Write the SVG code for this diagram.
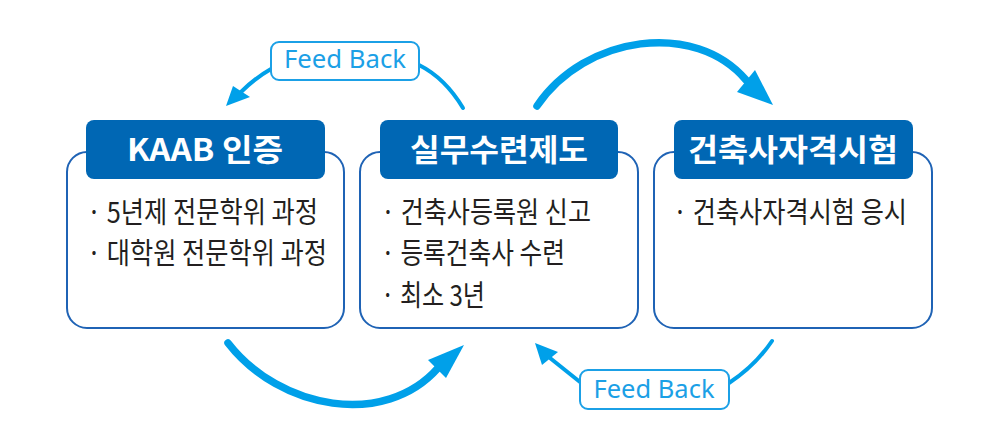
<svg xmlns="http://www.w3.org/2000/svg" width="1000" height="426" viewBox="0 0 1000 426">
<style>
.box{fill:#fff;stroke:#1f63b5;stroke-width:2}
.hdr{fill:#0067b4}
.ht{font-family:"Noto Sans CJK KR","Noto Sans",sans-serif;font-weight:700;font-size:31px;fill:#fff;text-anchor:middle}
.bt{font-family:"Noto Sans CJK KR","Noto Sans",sans-serif;font-weight:400;font-size:29px;fill:#231f20}
.thick{fill:none;stroke:#00a0e9;stroke-width:7.5;stroke-linecap:round}
.thin{fill:none;stroke:#00a0e9;stroke-width:4;stroke-linecap:round}
.head{fill:#00a0e9}
.lbl{fill:#fff;stroke:#1ba0e6;stroke-width:2}
.lt{font-family:"Noto Sans","Open Sans",sans-serif;font-size:26px;fill:#1ba0e6}
</style>
<rect width="1000" height="426" fill="#fff"/>
<g id="connectors">
  <path class="thick" d="M537,106 C585,35 695,20 746,80"/>
  <polygon class="head" points="773,105 737,92 755,70"/>
  <path class="thick" d="M228,343 C280,410 385,428 438,368"/>
  <polygon class="head" points="464,345 428,360 446,378"/>
  <path class="thin" d="M463,108 Q445,78 419,65"/>
  <path class="thin" d="M271,69 Q255,78 241,92"/>
  <polygon class="head" points="226,106 233,86 250,97"/>
  <path class="thin" d="M772,341 Q755,366 729,383"/>
  <path class="thin" d="M580,382 Q565,370 550,358"/>
  <polygon class="head" points="535,343 542,365 558,352"/>
  <g id="fb1">
    <rect class="lbl" x="271" y="42" width="148" height="38" rx="8"/>
    <text class="lt" x="345" y="68" text-anchor="middle" textLength="122" lengthAdjust="spacingAndGlyphs">Feed Back</text>
  </g>
  <g id="fb2">
    <rect class="lbl" x="580" y="370" width="149" height="39" rx="8"/>
    <text class="lt" x="654" y="398" text-anchor="middle" textLength="121" lengthAdjust="spacingAndGlyphs">Feed Back</text>
  </g>
</g>
<g id="node-kaab">
  <rect class="box" x="67" y="152" width="277" height="176" rx="20"/>
  <rect class="hdr" x="86" y="120" width="239" height="59" rx="8"/>
  <text class="ht" x="205" y="161" textLength="156" lengthAdjust="spacingAndGlyphs">KAAB 인증</text>
  <text class="bt" x="87" y="223" textLength="231" lengthAdjust="spacingAndGlyphs">· 5년제 전문학위 과정</text>
  <text class="bt" x="87" y="264" textLength="240" lengthAdjust="spacingAndGlyphs">· 대학원 전문학위 과정</text>
</g>
<g id="node-practice">
  <rect class="box" x="360" y="152" width="278" height="176" rx="20"/>
  <rect class="hdr" x="380" y="120" width="238" height="59" rx="8"/>
  <text class="ht" x="499" y="161" textLength="178" lengthAdjust="spacingAndGlyphs">실무수련제도</text>
  <text class="bt" x="381" y="223" textLength="210" lengthAdjust="spacingAndGlyphs">· 건축사등록원 신고</text>
  <text class="bt" x="381" y="264" textLength="184" lengthAdjust="spacingAndGlyphs">· 등록건축사 수련</text>
  <text class="bt" x="381" y="306" textLength="104" lengthAdjust="spacingAndGlyphs">· 최소 3년</text>
</g>
<g id="node-exam">
  <rect class="box" x="654" y="152" width="278" height="176" rx="20"/>
  <rect class="hdr" x="674" y="120" width="239" height="59" rx="8"/>
  <text class="ht" x="793" y="161" textLength="210" lengthAdjust="spacingAndGlyphs">건축사자격시험</text>
  <text class="bt" x="673" y="223" textLength="234" lengthAdjust="spacingAndGlyphs">· 건축사자격시험 응시</text>
</g>
</svg>
